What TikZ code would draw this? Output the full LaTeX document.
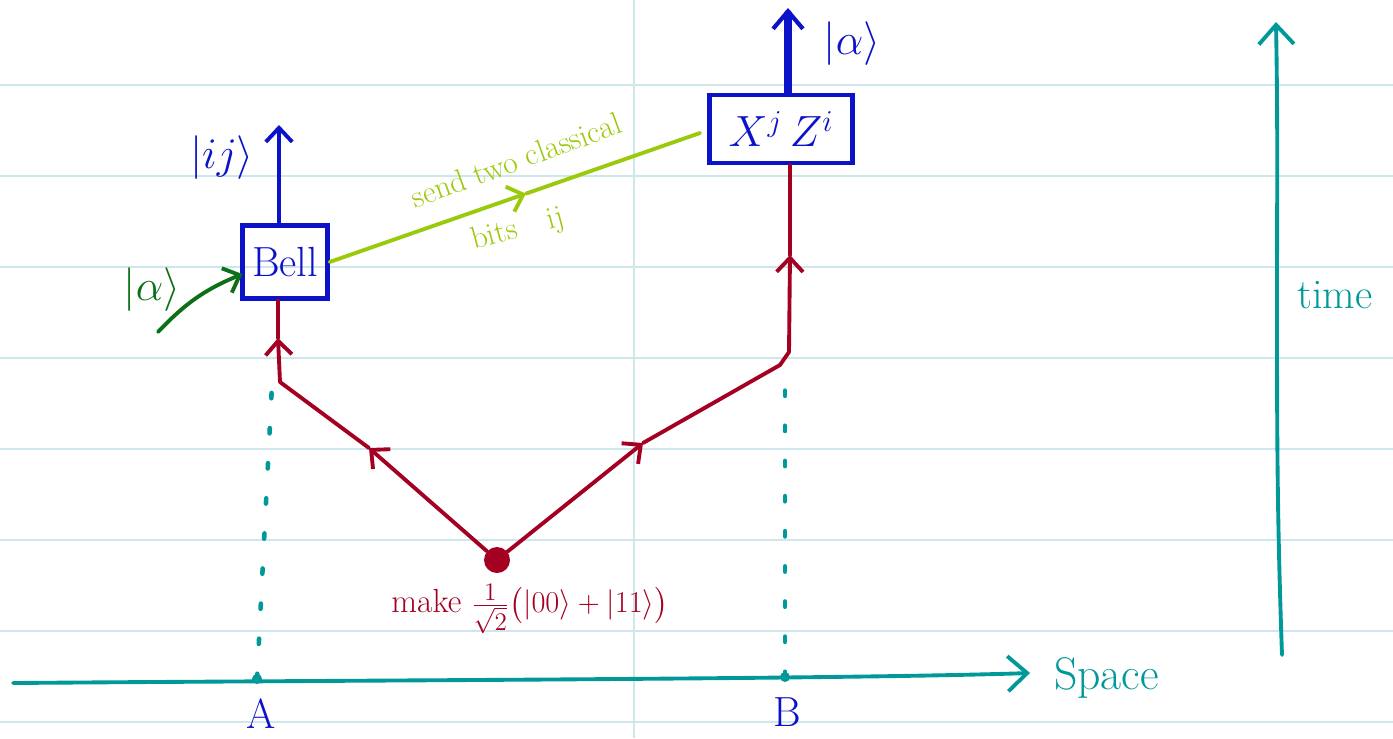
\documentclass[tikz,border=0pt]{standalone}
\usepackage{fontspec,amsmath}
\usetikzlibrary{arrows.meta,calc,positioning}

\definecolor{inkblue}{RGB}{12,18,200}
\definecolor{inkred}{RGB}{163,0,34}
\definecolor{inkteal}{RGB}{0,152,152}
\definecolor{inkgreen}{RGB}{12,112,22}
\definecolor{inklime}{RGB}{155,202,12}
\definecolor{ruled}{RGB}{206,231,236}

\tikzset{
  ink/.style={line width=2.2pt,line cap=round,line join=round},
  tip/.style={-{Straight Barb[length=8pt,width=15pt,line width=2.2pt]}},
  bigtip/.style={-{Straight Barb[length=11pt,width=20pt,line width=2.2pt]}},
  gatebox/.style={draw=inkblue,line width=2.4pt,text=inkblue,inner sep=0pt,
    font=\fontsize{24}{26}\selectfont},
  lbl/.style={inner sep=1pt,font=\fontsize{24}{26}\selectfont},
  ket/.style={inner sep=1pt,font=\fontsize{28}{30}\selectfont},
  dots/.style={ink,inkteal,line width=2.6pt,dash pattern=on 3pt off 17pt}
}

\begin{document}
\begin{tikzpicture}[x=0.02cm,y=-0.02cm]
\useasboundingbox (0,0) rectangle (1393,738);
% ruled paper
\foreach \y in {85,176,...,722}{
  \draw[ruled,line width=0.9pt] (0,\y)--(1393,\y);
}
\draw[ruled,line width=0.9pt] (634,0)--(634,738);

% axes
\coordinate (sp0) at (13,683);
\coordinate (sp1) at (1030,673);
\draw[ink,inkteal,bigtip] (sp0) .. controls (400,680) and (850,679) .. (sp1);
\node[lbl,text=inkteal,anchor=west,font=\fontsize{26}{28}\selectfont] (spacelbl) at (1052,678) {Space};
\coordinate (t0) at (1282,655);
\coordinate (t1) at (1276,22);
\draw[ink,inkteal,bigtip] (t0) to[out=92,in=-90] (1277,300) to[out=90,in=-89] (t1);
\node[lbl,text=inkteal] (timelbl) at (1335,295) {time};

% the two places
\coordinate (Abase) at (257,679);
\coordinate (Atop) at (272,385);
\coordinate (Bbase) at (785,677);
\coordinate (Btop) at (785,368);
\fill[inkteal] (Abase) circle (5);
\fill[inkteal] (Bbase) circle (5);
\draw[dots] (Abase)--(Atop);
\draw[dots] (Bbase)--(Btop);
\node[lbl,text=inkblue] (A) at (261,714) {A};
\node[lbl,text=inkblue] (B) at (787,712) {B};

% gates
\node[gatebox,minimum width=1.7cm,minimum height=1.46cm] (bell) at (285,262) {Bell};
\node[gatebox,minimum width=2.86cm,minimum height=1.36cm] (corr) at (781,129) {$X^{j}\,Z^{i}$};

% entangled pair
\node[circle,fill=inkred,inner sep=0pt,minimum size=0.52cm] (src) at (497,560) {};
\node[text=inkred,inner sep=1pt,font=\fontsize{19}{21}\selectfont] (mklbl) at (530,609)
  {make $\frac{1}{\sqrt{2}}\big(|00\rangle+|11\rangle\big)$};
\coordinate (l1) at (369,448);
\coordinate (l2) at (280,382);
\coordinate (l3) at (278,338);
\coordinate (r1) at (643,443);
\coordinate (r2) at (780,365);
\coordinate (r3) at (789,352);
\coordinate (r4) at (790,255);
\draw[ink,inkred,tip] (src)--(l1);
\draw[ink,inkred,tip] (l1)--(l2)--(l3);
\draw[ink,inkred] (l3)--(bell.south -| l3);
\draw[ink,inkred,tip] (src)--(r1);
\draw[ink,inkred,tip] (r1)--(r2)--(r3)--(r4);
\draw[ink,inkred] (r4)--(corr.south -| r4);

% input and outputs
\coordinate (ain) at (158,332);
\draw[ink,inkgreen,tip] (ain) to[bend left=12] ($(bell.west)+(2,12)$);
\node[ket,text=inkgreen] (alphain) at (152,290) {$|\alpha\rangle$};
\coordinate (ijtop) at (279,125);
\draw[ink,inkblue,tip] (bell.north -| ijtop)--(ijtop);
\node[ket,text=inkblue] (ijlbl) at (222,158) {$|ij\rangle$};
\coordinate (outtop) at (788,8);
\draw[ink,inkblue,line width=4pt,-{Straight Barb[length=10pt,width=17pt,line width=2.4pt]}] (corr.north -| outtop)--(outtop);
\node[ket,text=inkblue] (alphaout) at (852,44) {$|\alpha\rangle$};

% classical channel
\coordinate (bitsend) at (700,133);
\coordinate (bitsmid) at ($(bell.east)!0.53!(bitsend)$);
\draw[ink,inklime,tip] (bell.east)--(bitsmid);
\draw[ink,inklime] (bitsmid)--(bitsend);
\node[text=inklime,inner sep=1pt,rotate=20,font=\fontsize{18}{20}\selectfont] (sendlbl) at (516,160) {send two classical};
\node[text=inklime,inner sep=1pt,rotate=15,font=\fontsize{18}{20}\selectfont] (bitslbl) at (518,230) {bits\quad ij};
\end{tikzpicture}
\end{document}
